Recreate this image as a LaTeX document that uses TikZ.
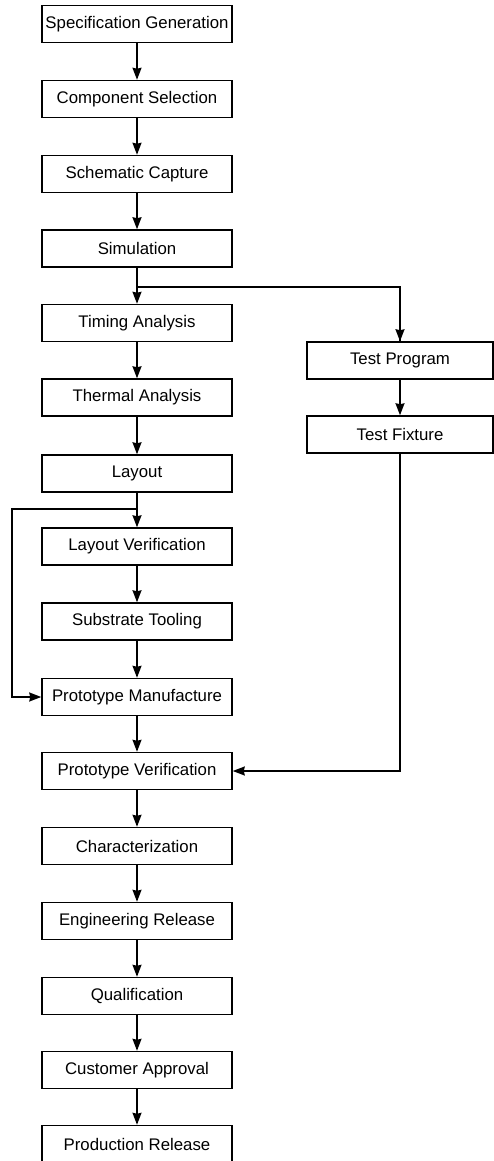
\documentclass[tikz,border=0pt]{standalone}
\usepackage{fontspec}
\setmainfont{Liberation Sans}
\usetikzlibrary{arrows.meta}
\begin{document}
\begin{tikzpicture}[x=1pt,y=-1pt,
  box/.style={draw, line width=1.5pt, minimum width=190pt, minimum height=37pt, inner sep=0pt, font=\fontsize{16.8}{18}\selectfont},
  conn/.style={line width=1.5pt, -{Stealth[length=12pt,width=9pt,inset=1pt]}},
  plain/.style={line width=1.5pt}]
\useasboundingbox (0,0) rectangle (494,1161);
\node[box] (a1) at (137,24) {Specification Generation};
\node[box] (a2) at (137,99) {Component Selection};
\node[box] (a3) at (137,174) {Schematic Capture};
\node[box] (a4) at (137,248.5) {Simulation};
\node[box] (a5) at (137,323) {Timing Analysis};
\node[box] (a6) at (137,397.5) {Thermal Analysis};
\node[box] (a7) at (137,473.5) {Layout};
\node[box] (a8) at (137,546.5) {Layout Verification};
\node[box] (a9) at (137,621.5) {Substrate Tooling};
\node[box] (a10) at (137,697) {Prototype Manufacture};
\node[box] (a11) at (137,771) {Prototype Verification};
\node[box] (a12) at (137,846) {Characterization};
\node[box] (a13) at (137,921) {Engineering Release};
\node[box] (a14) at (137,996) {Qualification};
\node[box] (a15) at (137,1070) {Customer Approval};
\node[box] (a16) at (137,1144) {Production Release};
\node[box, minimum width=186pt] (b1) at (400,360.5) {Test Program};
\node[box, minimum width=186pt] (b2) at (400,434.5) {Test Fixture};
\coordinate (j1) at (137,287);
\coordinate (j2) at (137,509);
\draw[conn] (a1) -- (a2);
\draw[conn] (a2) -- (a3);
\draw[conn] (a3) -- (a4);
\draw[conn] (a4) -- (a5);
\draw[plain] (j1) -| (b1.north) ;
\draw[conn] (j1 -| b1) -- (b1);
\draw[conn] (a5) -- (a6);
\draw[conn] (a6) -- (a7);
\draw[conn] (a7) -- (a8);
\draw[conn] (j2) -- (12,509) |- (a10.west);
\draw[conn] (a8) -- (a9);
\draw[conn] (a9) -- (a10);
\draw[conn] (b1) -- (b2);
\draw[conn] (b2.south) |- (a11.east);
\draw[conn] (a10) -- (a11);
\draw[conn] (a11) -- (a12);
\draw[conn] (a12) -- (a13);
\draw[conn] (a13) -- (a14);
\draw[conn] (a14) -- (a15);
\draw[conn] (a15) -- (a16);
\end{tikzpicture}
\end{document}
